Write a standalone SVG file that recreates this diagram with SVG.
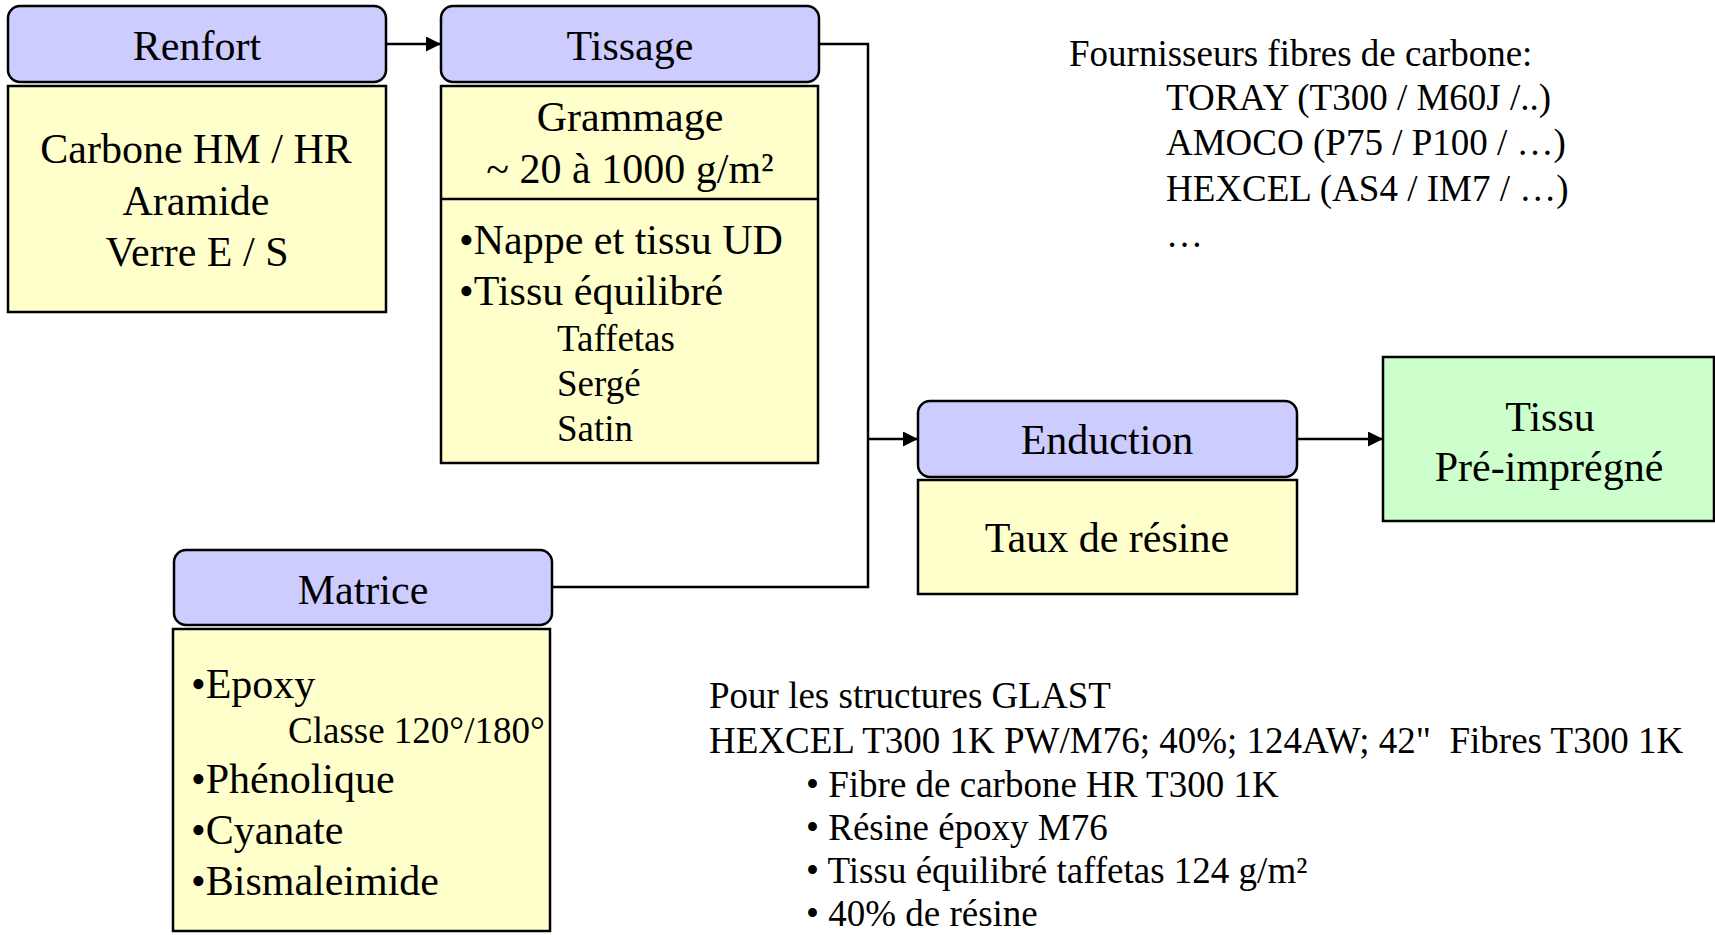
<svg xmlns="http://www.w3.org/2000/svg" width="1715" height="935" viewBox="0 0 1715 935">
<style>
text{font-family:"Liberation Serif","Times New Roman",serif;fill:#000}
.b{font-size:42px}
.s{font-size:37px}
.c{text-anchor:middle}
.hd{fill:#CCCCFF;stroke:#000;stroke-width:2.5}
.bd{fill:#FFFFCC;stroke:#000;stroke-width:2.5}
.gr{fill:#CCFFCC;stroke:#000;stroke-width:2.5}
.ln{fill:none;stroke:#000;stroke-width:2.5}
</style>
<defs>
<marker id="ah" viewBox="0 0 10 10" refX="10" refY="5" markerWidth="16" markerHeight="15" markerUnits="userSpaceOnUse" orient="auto">
<path d="M0,0 L10,5 L0,10 Z" fill="#000"/>
</marker>
</defs>
<rect width="1715" height="935" fill="#fff"/>
<g id="connectors">
<line class="ln" x1="386" y1="44" x2="441" y2="44" marker-end="url(#ah)"/>
<polyline class="ln" points="819,44 868,44 868,587 552,587"/>
<line class="ln" x1="868" y1="439" x2="918" y2="439" marker-end="url(#ah)"/>
<line class="ln" x1="1297" y1="439" x2="1383" y2="439" marker-end="url(#ah)"/>
</g>
<g id="renfort">
<rect class="hd" x="8" y="6" width="378" height="76" rx="12"/>
<text class="b c" x="197" y="60">Renfort</text>
<rect class="bd" x="8" y="86" width="378" height="226"/>
<text class="b c" x="196" y="163">Carbone HM / HR</text>
<text class="b c" x="196" y="215">Aramide</text>
<text class="b c" x="197" y="266">Verre E / S</text>
</g>
<g id="tissage">
<rect class="hd" x="441" y="6" width="378" height="76" rx="12"/>
<text class="b c" x="630" y="60">Tissage</text>
<rect class="bd" x="441" y="86" width="377" height="377"/>
<line class="ln" x1="441" y1="199" x2="818" y2="199"/>
<text class="b c" x="630" y="131">Grammage</text>
<text class="b c" x="630" y="183">~ 20 à 1000 g/m²</text>
<text class="b" x="459" y="254">•Nappe et tissu UD</text>
<text class="b" x="459" y="305">•Tissu équilibré</text>
<text class="s" x="557" y="351">Taffetas</text>
<text class="s" x="557" y="396">Sergé</text>
<text class="s" x="557" y="441">Satin</text>
</g>
<g id="fournisseurs">
<text class="s" x="1069" y="66">Fournisseurs fibres de carbone:</text>
<text class="s" x="1166" y="110">TORAY (T300 / M60J /..)</text>
<text class="s" x="1166" y="155">AMOCO (P75 / P100 / …)</text>
<text class="s" x="1166" y="201">HEXCEL (AS4 / IM7 / …)</text>
<text class="s" x="1166" y="247">…</text>
</g>
<g id="enduction">
<rect class="hd" x="918" y="401" width="379" height="76" rx="12"/>
<text class="b c" x="1107" y="454">Enduction</text>
<rect class="bd" x="918" y="480" width="379" height="114"/>
<text class="b c" x="1107" y="552">Taux de résine</text>
</g>
<g id="tissu">
<rect class="gr" x="1383" y="357" width="331" height="164"/>
<text class="b c" x="1550" y="431">Tissu</text>
<text class="b c" x="1549" y="481">Pré-imprégné</text>
</g>
<g id="matrice">
<rect class="hd" x="174" y="550" width="378" height="75" rx="12"/>
<text class="b c" x="363" y="604">Matrice</text>
<rect class="bd" x="173" y="629" width="377" height="302"/>
<text class="b" x="191" y="698">•Epoxy</text>
<text class="s" x="288" y="743">Classe 120°/180°</text>
<text class="b" x="191" y="793">•Phénolique</text>
<text class="b" x="191" y="844">•Cyanate</text>
<text class="b" x="191" y="895">•Bismaleimide</text>
</g>
<g id="glast">
<text class="s" x="709" y="708">Pour les structures GLAST</text>
<text class="s" x="709" y="753">HEXCEL T300 1K PW/M76; 40%; 124AW; 42"&#160; Fibres T300 1K</text>
<text class="s" x="806" y="797">• Fibre de carbone HR T300 1K</text>
<text class="s" x="806" y="840">• Résine époxy M76</text>
<text class="s" x="806" y="883">• Tissu équilibré taffetas 124 g/m²</text>
<text class="s" x="806" y="926">• 40% de résine</text>
</g>
</svg>
